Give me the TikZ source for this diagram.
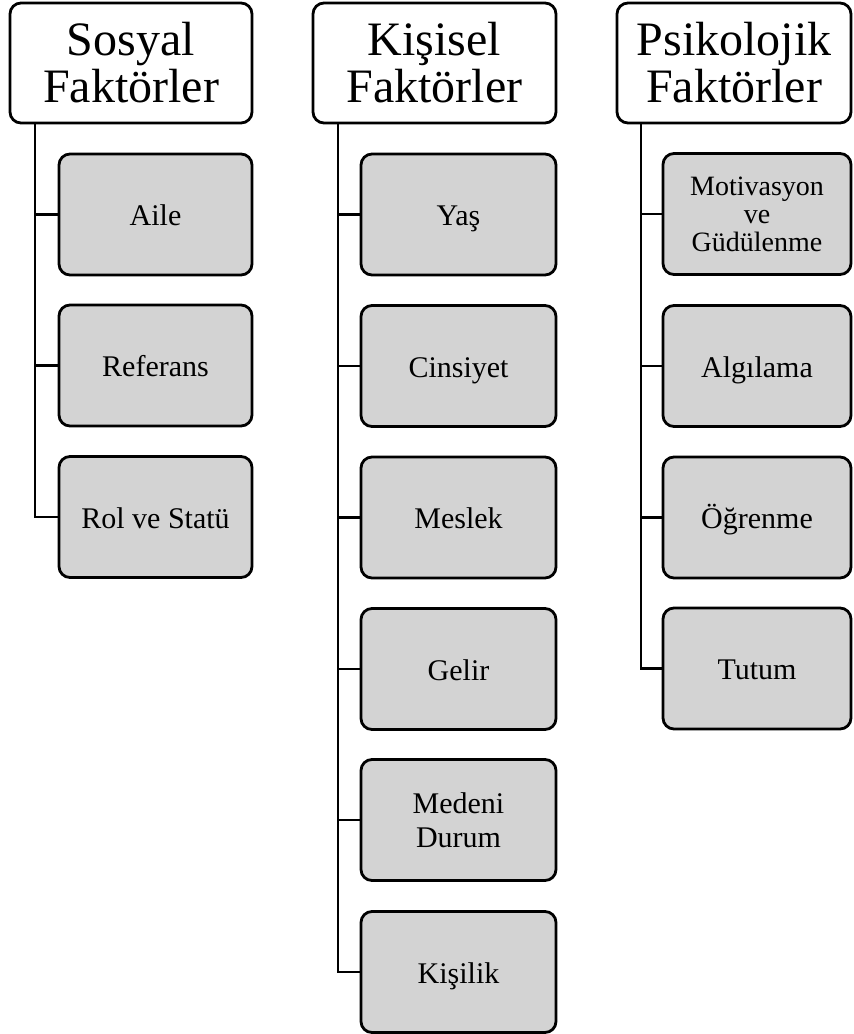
\documentclass[tikz,border=0pt]{standalone}
\usepackage{fontspec}
\setmainfont{Liberation Serif}
\begin{document}
\begin{tikzpicture}[x=1pt,y=-1pt,
  headbox/.style={draw=black, line width=2.8pt, rounded corners=11pt, fill=white,
    minimum width=240pt, minimum height=120pt, align=center, inner sep=0pt,
    font=\fontsize{48}{47}\selectfont},
  itembox/.style={draw=black, line width=2.8pt, rounded corners=11pt, fill=itemgray,
    minimum height=121pt, align=center, inner sep=0pt,
    font=\fontsize{30}{34}\selectfont},
  oneline/.style={itembox, text height=22pt, text depth=0pt},
  link/.style={draw=black, line width=2.8pt}]
\definecolor{itemgray}{RGB}{211,211,211}
\useasboundingbox (0,0) rectangle (854,1034);

% column headers
\node[headbox, minimum width=242pt] (h1) at (131,63) {Sosyal\\Faktörler};
\node[headbox, minimum width=243pt] (h2) at (434.5,63) {Kişisel\\Faktörler};
\node[headbox, minimum width=234pt] (h3) at (734,63) {Psikolojik\\Faktörler};

% Sosyal Faktörler
\node[oneline, minimum width=193pt] (s1) at (155.5,214.5) {Aile};
\node[oneline, minimum width=193pt] (s2) at (155.5,365.5) {Referans};
\node[oneline, minimum width=193pt] (s3) at (155.5,517) {Rol ve Statü};

% Kişisel Faktörler
\node[oneline, minimum width=195pt] (k1) at (458.5,214.5) {Yaş};
\node[oneline, minimum width=195pt] (k2) at (458.5,366) {Cinsiyet};
\node[oneline, minimum width=195pt] (k3) at (458.5,517.5) {Meslek};
\node[oneline, minimum width=195pt] (k4) at (458.5,669) {Gelir};
\node[itembox, minimum width=195pt] (k5) at (458.5,820) {Medeni\\Durum};
\node[oneline, minimum width=195pt] (k6) at (458.5,972) {Kişilik};

% Psikolojik Faktörler
\node[itembox, minimum width=188pt, font=\fontsize{28}{28}\selectfont] (p1) at (757,214) {Motivasyon\\ve\\Güdülenme};
\node[oneline, minimum width=188pt] (p2) at (757,366) {Algılama};
\node[oneline, minimum width=188pt] (p3) at (757,517.5) {Öğrenme};
\node[oneline, minimum width=188pt] (p4) at (757,668.5) {Tutum};

% trunk tops under each header
\coordinate (t1) at (35,0 |- h1.south);
\coordinate (t2) at (338,0 |- h2.south);
\coordinate (t3) at (641,0 |- h3.south);

\foreach \c in {s1,s2,s3} \draw[link] (t1) |- (\c.west);
\foreach \c in {k1,k2,k3,k4,k5,k6} \draw[link] (t2) |- (\c.west);
\foreach \c in {p1,p2,p3,p4} \draw[link] (t3) |- (\c.west);
\end{tikzpicture}
\end{document}
